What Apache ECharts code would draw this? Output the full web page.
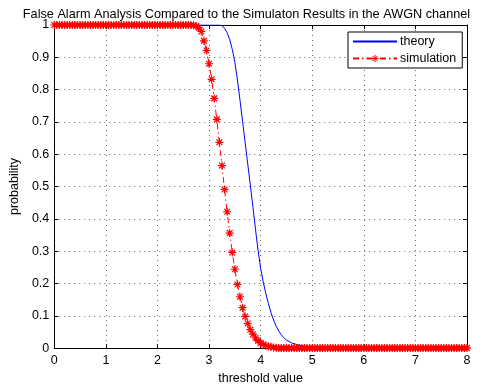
<!DOCTYPE html>
<html>
<head>
<meta charset="utf-8">
<script src="https://cdn.jsdelivr.net/npm/echarts@6/dist/echarts.min.js"></script>
<style>
html,body{margin:0;padding:0;background:#fff;}
#chart{width:493px;height:390px;}
</style>
</head>
<body>
<div id="chart"></div>
<script>
// ---- data ----
const titleText = 'False Alarm Analysis Compared to the Simulaton Results in the AWGN channel';
const xTicks = [0, 1, 2, 3, 4, 5, 6, 7, 8];
const yTicks = [0, 0.1, 0.2, 0.3, 0.4, 0.5, 0.6, 0.7, 0.8, 0.9, 1];

const theoryX = [0, 3.2, 3.25, 3.3, 3.35, 3.4, 3.45, 3.5, 3.55, 3.6, 3.65, 3.7, 3.75, 3.8, 3.85, 3.9, 3.95, 4.0, 4.05, 4.1, 4.15, 4.2, 4.25, 4.3, 4.35, 4.4, 4.45, 4.5, 4.6, 4.7, 4.8, 4.9, 5.0, 5.2, 5.5, 8];
const theoryY = [1, 1, 0.998, 0.99, 0.976, 0.955, 0.925, 0.885, 0.83, 0.767, 0.702, 0.636, 0.57, 0.505, 0.438, 0.368, 0.302, 0.247, 0.205, 0.169, 0.138, 0.11, 0.087, 0.068, 0.053, 0.041, 0.032, 0.025, 0.016, 0.011, 0.007, 0.004, 0.002, 0.001, 0, 0];

const simX = [
  0, 0.05, 0.1, 0.15, 0.2, 0.25, 0.3, 0.35, 0.4, 0.45, 0.5, 0.55, 0.6, 0.65, 0.7, 0.75, 0.8, 0.85, 0.9, 0.95,
  1, 1.05, 1.1, 1.15, 1.2, 1.25, 1.3, 1.35, 1.4, 1.45, 1.5, 1.55, 1.6, 1.65, 1.7, 1.75, 1.8, 1.85, 1.9, 1.95,
  2, 2.05, 2.1, 2.15, 2.2, 2.25, 2.3, 2.35, 2.4, 2.45, 2.5, 2.55, 2.6, 2.65, 2.7, 2.75, 2.8, 2.85, 2.9, 2.95,
  3, 3.05, 3.1, 3.15, 3.2, 3.25, 3.3, 3.35, 3.4, 3.45, 3.5, 3.55, 3.6, 3.65, 3.7, 3.75, 3.8, 3.85, 3.9, 3.95,
  4, 4.05, 4.1, 4.15, 4.2, 4.25, 4.3, 4.35, 4.4, 4.45, 4.5, 4.55, 4.6, 4.65, 4.7, 4.75, 4.8, 4.85, 4.9, 4.95,
  5, 5.05, 5.1, 5.15, 5.2, 5.25, 5.3, 5.35, 5.4, 5.45, 5.5, 5.55, 5.6, 5.65, 5.7, 5.75, 5.8, 5.85, 5.9, 5.95,
  6, 6.05, 6.1, 6.15, 6.2, 6.25, 6.3, 6.35, 6.4, 6.45, 6.5, 6.55, 6.6, 6.65, 6.7, 6.75, 6.8, 6.85, 6.9, 6.95,
  7, 7.05, 7.1, 7.15, 7.2, 7.25, 7.3, 7.35, 7.4, 7.45, 7.5, 7.55, 7.6, 7.65, 7.7, 7.75, 7.8, 7.85, 7.9, 7.95,
  8
];
const simY = [
  1, 1, 1, 1, 1, 1, 1, 1, 1, 1, 1, 1, 1, 1, 1, 1, 1, 1, 1, 1,
  1, 1, 1, 1, 1, 1, 1, 1, 1, 1, 1, 1, 1, 1, 1, 1, 1, 1, 1, 1,
  1, 1, 1, 1, 1, 1, 1, 1, 1, 1, 1, 1, 1, 1, 0.999, 0.997, 0.992, 0.98, 0.951, 0.921,
  0.88, 0.832, 0.773, 0.708, 0.637, 0.565, 0.491, 0.422, 0.356, 0.296, 0.244, 0.197, 0.159, 0.125, 0.098, 0.076, 0.057, 0.043, 0.032, 0.023,
  0.016, 0.011, 0.008, 0.005, 0.004, 0.002, 0.001, 0, 0, 0, 0, 0, 0, 0, 0, 0, 0, 0, 0, 0,
  0, 0, 0, 0, 0, 0, 0, 0, 0, 0, 0, 0, 0, 0, 0, 0, 0, 0, 0, 0,
  0, 0, 0, 0, 0, 0, 0, 0, 0, 0, 0, 0, 0, 0, 0, 0, 0, 0, 0, 0,
  0, 0, 0, 0, 0, 0, 0, 0, 0, 0, 0, 0, 0, 0, 0, 0, 0, 0, 0, 0,
  0
];
const seriesNames = ['theory', 'simulation'];
const xName = 'threshold value';
const yName = 'probability';

// ---- build chart ----
const FONT = '"Liberation Sans", Arial, Helvetica, sans-serif';
const FS = 12.5;
const asterisk = 'path://M0,-5L0,5M-5,0L5,0M-3.6,-3.6L3.6,3.6M-3.6,3.6L3.6,-3.6';
const gridLeft = 52, gridRight = 26, gridTop = 25, gridBottom = 37;

const chart = echarts.init(document.getElementById('chart'), null, {renderer: 'canvas'});

function axisBase(extra) {
  return Object.assign({
    type: 'value',
    axisLine: {show: true, onZero: false, lineStyle: {color: '#000', width: 1}},
    axisTick: {show: true, inside: true, length: 4, lineStyle: {color: '#000'}},
    axisLabel: {show: true, color: '#000', fontFamily: FONT, fontSize: FS},
    splitLine: {show: false}
  }, extra);
}

const option = {
  backgroundColor: '#fff',
  animation: false,
  title: {
    text: titleText,
    left: 'center', top: 3,
    padding: [5, 0, 5, gridLeft - gridRight],
    textStyle: {fontFamily: FONT, fontSize: 12.7, fontWeight: 'normal', color: '#000'}
  },
  grid: {left: gridLeft, right: gridRight, top: gridTop, bottom: gridBottom, containLabel: false},
  legend: {
    orient: 'vertical',
    left: 348, top: 32,
    data: [
      {name: seriesNames[0], itemStyle: {opacity: 0}},
      {name: seriesNames[1],
        itemStyle: {color: 'rgba(0,0,0,0)', borderColor: '#ff0000', borderWidth: 1}}
    ],
    backgroundColor: '#fff',
    borderColor: '#000', borderWidth: 1,
    padding: [3, 6, 3, 4],
    itemGap: 4,
    itemWidth: 44, itemHeight: 9,
    textStyle: {fontFamily: FONT, fontSize: FS, color: '#000', padding: [0, 0, 0, -2]}
  },
  xAxis: [
    axisBase({
      min: 0, max: 8, interval: 1, position: 'bottom',
      name: xName, nameLocation: 'middle', nameGap: 21,
      nameTextStyle: {fontFamily: FONT, fontSize: FS, color: '#000'},
      axisLabel: {show: true, color: '#000', fontFamily: FONT, fontSize: FS, margin: 6,
        formatter: v => (xTicks.indexOf(v) >= 0 ? String(v) : '')},
      splitLine: {show: true, lineStyle: {color: '#666', type: [1, 4], width: 1}}
    }),
    axisBase({min: 0, max: 8, interval: 1, position: 'top', axisLabel: {show: false}})
  ],
  yAxis: [
    axisBase({
      min: 0, max: 1, interval: 0.1, position: 'left',
      name: yName, nameLocation: 'middle', nameGap: 29,
      nameTextStyle: {fontFamily: FONT, fontSize: FS, color: '#000'},
      axisLabel: {show: true, color: '#000', fontFamily: FONT, fontSize: FS, margin: 5,
        formatter: v => { const r = Math.round(v * 10) / 10; return yTicks.indexOf(r) >= 0 ? String(r) : ''; }},
      splitLine: {show: true, lineStyle: {color: '#666', type: [1, 4], width: 1}}
    }),
    axisBase({min: 0, max: 1, interval: 0.1, position: 'right', axisLabel: {show: false}})
  ],
  series: [
    {
      name: seriesNames[0], type: 'line',
      xAxisIndex: 0, yAxisIndex: 0,
      data: theoryX.map((x, i) => [x, theoryY[i]]),
      showSymbol: false, symbol: 'circle',
      smooth: false,
      lineStyle: {color: '#0000ff', width: 1},
      itemStyle: {color: '#0000ff'},
      z: 2
    },
    {
      name: seriesNames[1], type: 'line',
      xAxisIndex: 0, yAxisIndex: 0,
      data: simX.map((x, i) => [x, simY[i]]),
      symbol: asterisk, symbolSize: 8, showAllSymbol: true,
      lineStyle: {color: '#ff0000', width: 1, type: [6, 3, 1.5, 3]},
      itemStyle: {color: 'rgba(0,0,0,0)', borderColor: '#ff0000', borderWidth: 1.2},
      z: 3
    }
  ]
};
chart.setOption(option);
</script>
</body>
</html>
